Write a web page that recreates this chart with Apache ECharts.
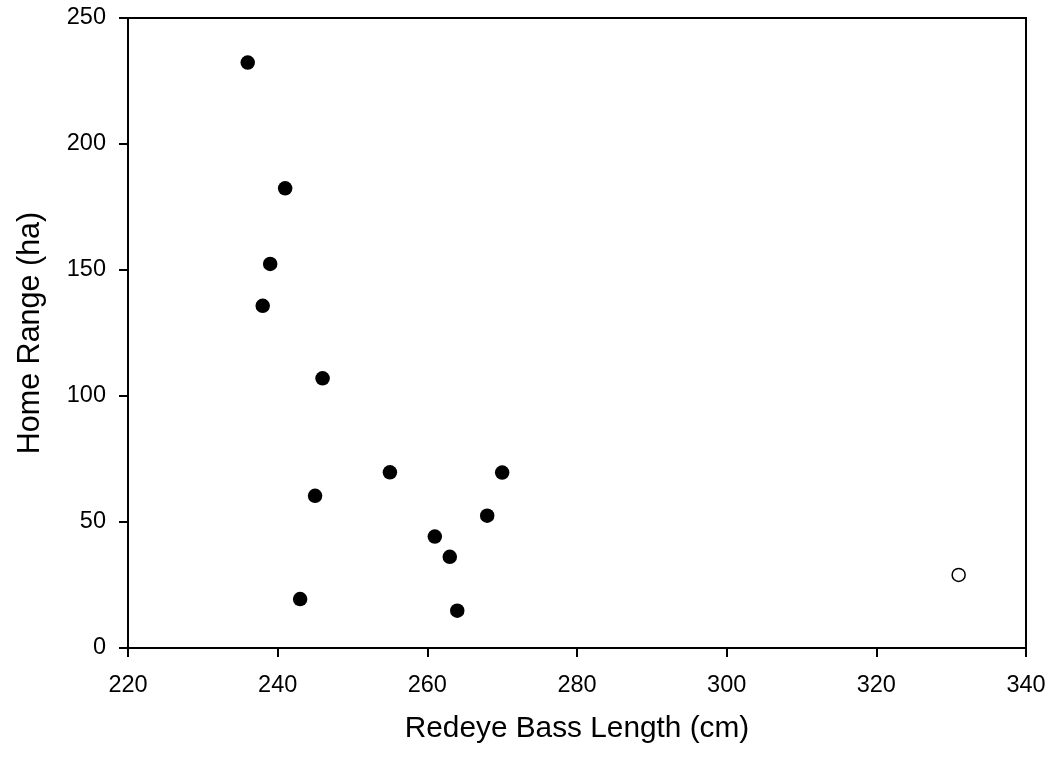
<!DOCTYPE html>
<html><head><meta charset="utf-8">
<script src="https://cdn.jsdelivr.net/npm/echarts@6/dist/echarts.min.js"></script>
<style>html,body{margin:0;padding:0;background:#fff}#c{width:1051px;height:759px}</style>
</head><body><div id="c"></div>
<script>
const lengths = [236, 241, 239, 238, 246, 255, 270, 245, 268, 261, 263, 243, 264];
const homeRange = [232.3, 182.4, 152.4, 135.8, 107.0, 69.7, 69.6, 60.4, 52.5, 44.2, 36.2, 19.4, 14.8];
const outlierLength = [331];
const outlierRange = [29.0];
const xTicks = [220, 240, 260, 280, 300, 320, 340];
const yTicks = [0, 50, 100, 150, 200, 250];

const font = 'Liberation Sans, Arial, sans-serif';
const chart = echarts.init(document.getElementById('c'));
chart.setOption({
  animation: false,
  backgroundColor: '#fff',
  grid: {left: 128, right: 25, top: 18, bottom: 111, show: true, borderColor: '#000', borderWidth: 2, backgroundColor: 'transparent'},
  xAxis: {
    type: 'value', min: xTicks[0], max: xTicks[xTicks.length-1], interval: 20,
    name: 'Redeye Bass Length (cm)', nameLocation: 'middle', nameGap: 66,
    nameTextStyle: {fontFamily: font, fontSize: 29.8, color: '#000'},
    axisLine: {show: true, onZero: false, lineStyle: {color: '#000', width: 2}},
    axisTick: {show: true, inside: false, length: 9, lineStyle: {color: '#000', width: 2}},
    axisLabel: {fontFamily: font, fontSize: 23.5, color: '#000', margin: 26},
    splitLine: {show: false}
  },
  yAxis: {
    type: 'value', min: yTicks[0], max: yTicks[yTicks.length-1], interval: 50,
    name: 'Home Range (ha)', nameLocation: 'middle', nameGap: 82, nameRotate: 90,
    nameTextStyle: {fontFamily: font, fontSize: 30.5, color: '#000'},
    axisLine: {show: true, onZero: false, lineStyle: {color: '#000', width: 2}},
    axisTick: {show: true, inside: false, length: 9, lineStyle: {color: '#000', width: 2}},
    axisLabel: {fontFamily: font, fontSize: 23.5, color: '#000', margin: 22},
    splitLine: {show: false}
  },
  series: [
    {type: 'scatter', symbol: 'circle', symbolSize: 14.5,
     itemStyle: {color: '#000', opacity: 1},
     data: lengths.map((x, i) => [x, homeRange[i]])},
    {type: 'scatter', symbol: 'circle', symbolSize: 13,
     itemStyle: {color: '#fff', borderColor: '#000', borderWidth: 1.5, opacity: 1},
     data: outlierLength.map((x, i) => [x, outlierRange[i]])}
  ]
});
</script></body></html>
